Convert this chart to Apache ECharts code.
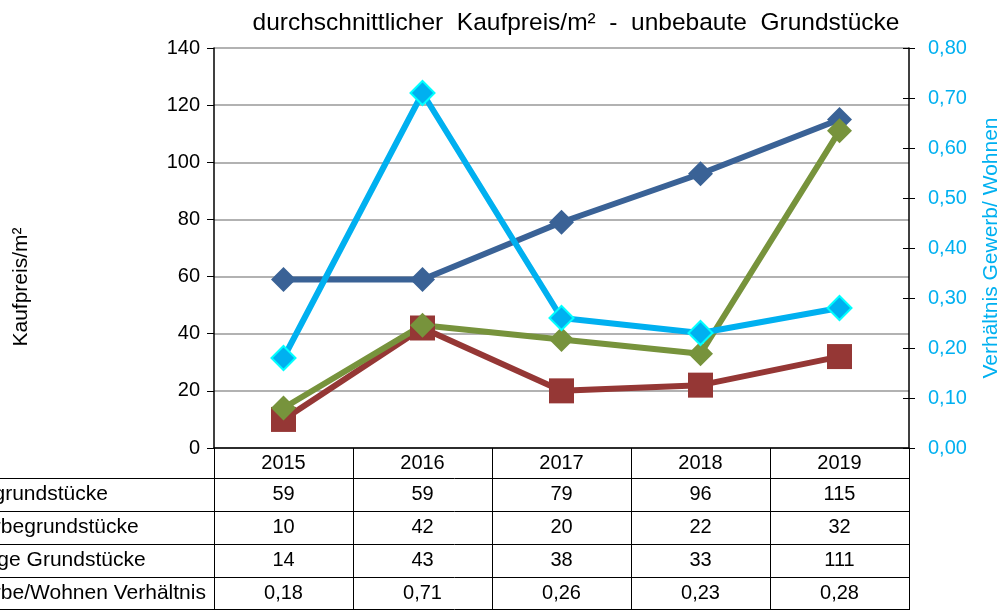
<!DOCTYPE html>
<html>
<head>
<meta charset="utf-8">
<script src="https://cdn.jsdelivr.net/npm/echarts@6/dist/echarts.min.js"></script>
<style>
  html, body { margin: 0; padding: 0; background: #fff; }
  #chart { width: 1006px; height: 610px; }
</style>
</head>
<body>
<div id="chart"></div>
<script>
// Daten
const jahre = ['2015', '2016', '2017', '2018', '2019'];
const wohnbau = [59, 59, 79, 96, 115];
const gewerbe = [10, 42, 20, 22, 32];
const sonstige = [14, 43, 38, 33, 111];
const verhaeltnis = [0.18, 0.71, 0.26, 0.23, 0.28];
const zeilenNamen = ['Wohngrundstücke', 'Gewerbegrundstücke', 'Sonstige Grundstücke', 'Gewerbe/Wohnen Verhältnis'];
const linksTicks = [0, 140, 20];
const rechtsTicks = [0, 0.8, 0.1];

const FONT = 'Liberation Sans, Arial, sans-serif';
const komma = v => v.toFixed(2).replace('.', ',');

// Tabellenzeilen unter dem Diagramm (je eine Kategorie-Achse)
const zeilenWerte = [
  wohnbau.map(String),
  gewerbe.map(String),
  sonstige.map(String),
  verhaeltnis.map(komma)
];
const zeilenOffset = [46, 79, 112, 145];

const tabellenAchsen = zeilenWerte.map((werte, i) => ({
  type: 'category',
  position: 'bottom',
  offset: zeilenOffset[i],
  data: werte,
  axisLine: { show: false },
  axisTick: { show: false },
  axisLabel: { margin: 0, verticalAlign: 'middle', color: '#000', fontSize: 20, fontFamily: FONT }
}));

// Tabellenlinien und Zeilenbeschriftungen (links abgeschnitten wie im Original)
const tabellenLinien = [478, 511, 544, 577, 609].map(y => ({
  type: 'line',
  silent: true,
  shape: { x1: 0, y1: y + 0.5, x2: 909, y2: y + 0.5 },
  style: { stroke: '#000', lineWidth: 1 }
}));
const zeilenTexte = zeilenNamen.map((name, i) => ({
  type: 'text',
  silent: true,
  x: -61,
  y: 448 + zeilenOffset[i],
  style: { text: name, fill: '#000', fontSize: 21, fontFamily: FONT, align: 'left', verticalAlign: 'middle' }
}));

const chart = echarts.init(document.getElementById('chart'));

chart.setOption({
  animation: false,
  title: {
    text: 'durchschnittlicher  Kaufpreis/m²  -  unbebaute  Grundstücke',
    left: 571,
    top: 6,
    textAlign: 'center',
    textStyle: { color: '#000', fontSize: 24.5, fontWeight: 'normal', fontFamily: FONT }
  },
  grid: { left: 214, right: 97, top: 48, bottom: 162, outerBoundsMode: 'none', containLabel: false },
  xAxis: [
    {
      type: 'category',
      data: jahre,
      boundaryGap: true,
      axisLine: { lineStyle: { color: '#000', width: 1.5 } },
      axisTick: { show: true, inside: false, length: 162, lineStyle: { color: '#000' } },
      axisLabel: { margin: 15, verticalAlign: 'middle', color: '#000', fontSize: 20, fontFamily: FONT }
    }
  ].concat(tabellenAchsen),
  yAxis: [
    {
      type: 'value',
      min: linksTicks[0],
      max: linksTicks[1],
      interval: linksTicks[2],
      name: 'Kaufpreis/m²',
      nameLocation: 'middle',
      nameRotate: 90,
      nameGap: 182,
      nameMoveOverlap: false,
      nameTextStyle: { color: '#000', fontSize: 21, fontFamily: FONT, padding: [0, 78, 0, 0] },
      axisLine: { show: true, lineStyle: { color: '#000', width: 1.5 } },
      axisTick: { show: true, length: 7, lineStyle: { color: '#000' } },
      axisLabel: { margin: 14, color: '#000', fontSize: 20, fontFamily: FONT },
      splitLine: { lineStyle: { color: '#999', width: 1.5 } }
    },
    {
      type: 'value',
      position: 'right',
      min: rechtsTicks[0],
      max: rechtsTicks[1],
      interval: rechtsTicks[2],
      name: 'Verhältnis Gewerb/ Wohnen',
      nameLocation: 'middle',
      nameRotate: 90,
      nameGap: 72,
      nameMoveOverlap: false,
      nameTextStyle: { color: '#00b0f0', fontSize: 21, fontFamily: FONT },
      axisLine: { show: true, lineStyle: { color: '#000', width: 1.5 } },
      axisTick: { show: true, length: 6, lineStyle: { color: '#000' } },
      axisLabel: { margin: 19, color: '#00b0f0', fontSize: 20, fontFamily: FONT, formatter: komma },
      splitLine: { show: false }
    },
    {
      // innere Hälfte der kreuzenden Teilstriche rechts
      type: 'value',
      position: 'right',
      min: rechtsTicks[0],
      max: rechtsTicks[1],
      interval: rechtsTicks[2],
      axisLine: { show: false },
      axisTick: { show: true, inside: true, length: 6, lineStyle: { color: '#000' } },
      axisLabel: { show: false },
      splitLine: { show: false }
    }
  ],
  graphic: tabellenLinien.concat(zeilenTexte),
  series: [
    {
      name: zeilenNamen[0],
      type: 'line',
      data: wohnbau,
      symbol: 'diamond',
      symbolSize: 25,
      lineStyle: { color: '#3a6296', width: 6 },
      itemStyle: { color: '#3a6296' }
    },
    {
      name: zeilenNamen[1],
      type: 'line',
      data: gewerbe,
      symbol: 'rect',
      symbolSize: 25,
      lineStyle: { color: '#953735', width: 6 },
      itemStyle: { color: '#953735' }
    },
    {
      name: zeilenNamen[2],
      type: 'line',
      data: sonstige,
      symbol: 'diamond',
      symbolSize: 25,
      lineStyle: { color: '#77933c', width: 6 },
      itemStyle: { color: '#77933c' }
    },
    {
      name: zeilenNamen[3],
      type: 'line',
      yAxisIndex: 1,
      data: verhaeltnis,
      symbol: 'diamond',
      symbolSize: 24,
      lineStyle: { color: '#00b0f0', width: 6 },
      itemStyle: { color: '#00b0f0', borderColor: '#00ffff', borderWidth: 2 }
    }
  ]
});
</script>
</body>
</html>
